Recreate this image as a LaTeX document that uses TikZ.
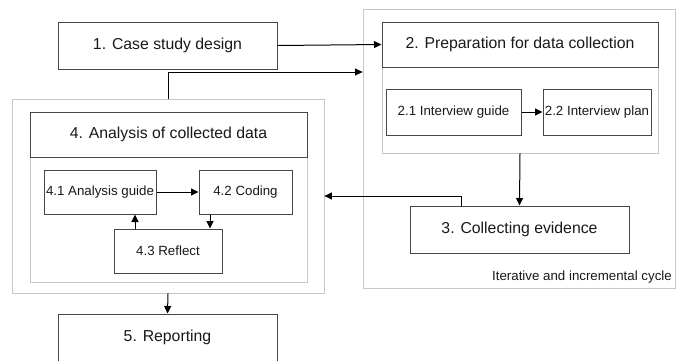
\documentclass[tikz,border=0pt]{standalone}
\usepackage{fontspec}
\setmainfont{Liberation Sans}
\usetikzlibrary{arrows.meta,shadows}
\begin{document}
\begin{tikzpicture}[x=1pt,y=-1pt,
  box/.style={draw=black!72,line width=1pt,fill=white,inner sep=0pt,text=black!90},
  bigtxt/.style={font=\fontsize{15.8}{18}\selectfont},
  smalltxt/.style={font=\fontsize{13.3}{16}\selectfont},
  group/.style={draw=black!22,line width=0.8pt,fill=white,
    drop shadow={shadow xshift=1pt,shadow yshift=-1.2pt,opacity=0.12}},
  arr/.style={draw=black,line width=1pt,-{Triangle[length=7.5pt,width=7pt]}}
]
\useasboundingbox (0,0) rectangle (679,360);

% iterative cycle container
\node[group,minimum width=312,minimum height=279] (cyc) at (519,148.5) {};
\node[smalltxt,anchor=east,inner sep=0pt,text=black!90] (cyclabel) at (672,277) {Iterative and incremental cycle};

% phase 2 group
\node[group,minimum width=276,minimum height=131] (g2) at (520,87.5) {};
\node[box,bigtxt,minimum width=276,minimum height=45] (h2) at (520,44.5) {2. Preparation for data collection};
\node[box,smalltxt,minimum width=135,minimum height=46] (b21) at (453.5,112) {2.1 Interview guide};
\node[box,smalltxt,minimum width=108,minimum height=46] (b22) at (597,112) {2.2 Interview plan};

% phase 3
\node[box,bigtxt,minimum width=219,minimum height=47] (b3) at (519.5,229.5) {3. Collecting evidence};

% phase 4 containers
\node[group,minimum width=312,minimum height=194] (o4) at (168,196) {};
\node[group,minimum width=277,minimum height=170] (g4) at (168.5,197) {};
\node[box,bigtxt,minimum width=277,minimum height=45] (h4) at (168.5,134.5) {4. Analysis of collected data};
\node[box,smalltxt,minimum width=112,minimum height=44] (b41) at (100,192) {4.1 Analysis guide};
\node[box,smalltxt,minimum width=93,minimum height=44] (b42) at (245.5,192) {4.2 Coding};
\node[box,smalltxt,minimum width=108,minimum height=44] (b43) at (168,251) {4.3 Reflect};

% phases 1 and 5
\node[box,bigtxt,minimum width=219,minimum height=47] (b1) at (167.5,45.5) {1. Case study design};
\node[box,bigtxt,minimum width=219,minimum height=47] (b5) at (167.5,337.5) {5. Reporting};

% connectors
\draw[arr] (b1.east) -- (h2.west);
\draw[arr] (o4.north) |- (cyc.west |- 0,72);
\draw[arr] (b21.east) -- (b22.west);
\draw[arr] (g2.south) -- (b3.north);
\draw[arr] ([xshift=-58.5pt]b3.north) |- (o4.east);
\draw[arr] (b41.east) -- (b42.west);
\draw[arr] ([xshift=-35.5pt]b42.south) -- ([xshift=-35.5pt]b42.south |- b43.north);
\draw[arr] ([xshift=-33pt]b43.north) -- ([xshift=-33pt]b43.north |- b41.south);
\draw[arr] (o4.south) -- (b5.north);
\end{tikzpicture}
\end{document}
